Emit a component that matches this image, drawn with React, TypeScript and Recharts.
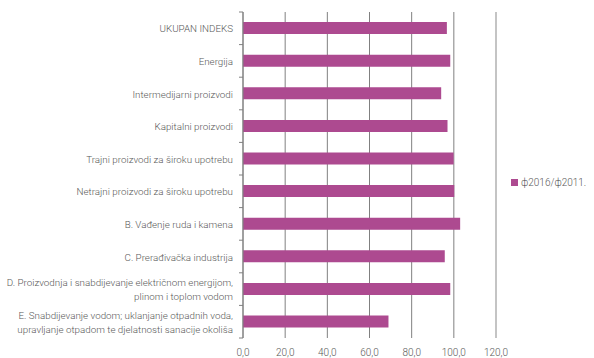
import React from "react";
import { BarChart, Bar, XAxis, YAxis, CartesianGrid, ReferenceLine } from "recharts";

const categories = [
  "UKUPAN INDEKS",
  "Energija",
  "Intermedijarni proizvodi",
  "Kapitalni proizvodi",
  "Trajni proizvodi za široku upotrebu",
  "Netrajni proizvodi za široku upotrebu",
  "B. Vađenje ruda i kamena",
  "C. Prerađivačka industrija",
  "D. Proizvodnja i snabdijevanje električnom energijom,\nplinom i toplom vodom",
  "E. Snabdijevanje vodom; uklanjanje otpadnih voda,\nupravljanje otpadom te djelatnosti sanacije okoliša",
];
const values = [96.7, 98.3, 94.0, 97.0, 99.9, 100.2, 103.0, 95.7, 98.3, 69.0];
const xTicks = [0, 20, 40, 60, 80, 100, 120];
const seriesName = "ф2016/ф2011.";

const data = categories.map((c, i) => ({ name: c, value: values[i] }));

const FONT = "Roboto, 'Liberation Sans', sans-serif";
const TEXT = "#595959";
const BAR = "#ad4a90";

const YTick = (props: any) => {
  const { x, y, payload, index } = props;
  const band = 32.6;
  const lines = String(payload.value).split("\n");
  const lh = 14;
  const startY = y - ((lines.length - 1) * lh) / 2;
  return (
    <g>
      <line x1={x + 6} x2={x + 10} y1={y - band / 2} y2={y - band / 2} stroke="#808080" />
      {index === categories.length - 1 && (
        <line x1={x + 6} x2={x + 10} y1={y + band / 2} y2={y + band / 2} stroke="#808080" />
      )}
      <text x={x} y={startY} textAnchor="end" dominantBaseline="central" fontSize={9.8} fill={TEXT} fontFamily={FONT} fontWeight={300}>
        {lines.map((l, i) => (
          <tspan key={i} x={x} dy={i === 0 ? 0 : lh}>
            {l}
          </tspan>
        ))}
      </text>
    </g>
  );
};

const fmt = (v: number) => v.toFixed(1).replace(".", ",");

export default function App() {
  return (
    <div style={{ position: "absolute", left: 0, top: 0, width: 594, height: 358, background: "#fff" }}>
      <BarChart
        width={594}
        height={358}
        data={data}
        layout="vertical"
        margin={{ top: 12, right: 98, left: 0, bottom: 0 }}
        barCategoryGap="31%"
      >
        <CartesianGrid horizontal={false} vertical={true} stroke="#808080" />
        <XAxis
          type="number"
          domain={[0, 120]}
          ticks={xTicks}
          axisLine={false}
          tickLine={false}
          height={20}
          tickFormatter={fmt}
          tick={{ fontSize: 10, fill: TEXT, fontFamily: FONT, fontWeight: 300 }}
          tickMargin={5}
          interval={0}
        />
        <YAxis
          type="category"
          dataKey="name"
          width={243}
          axisLine={{ stroke: "#808080" }}
          tickLine={false}
          tick={<YTick />}
          tickMargin={4}
          interval={0}
        />
        <ReferenceLine x={120} stroke="#c4c4c4" strokeWidth={2} />
        <Bar dataKey="value" name={seriesName} fill={BAR} isAnimationActive={false} />
      </BarChart>
      <div
        style={{
          position: "absolute",
          left: 511,
          top: 177,
          display: "flex",
          alignItems: "center",
          fontFamily: FONT,
          fontSize: 10,
          color: TEXT,
          fontWeight: 300,
          whiteSpace: "nowrap",
        }}
      >
        <span style={{ display: "inline-block", width: 7, height: 7, background: BAR, marginRight: 3 }} />
        <span>{seriesName}</span>
      </div>
    </div>
  );
}
